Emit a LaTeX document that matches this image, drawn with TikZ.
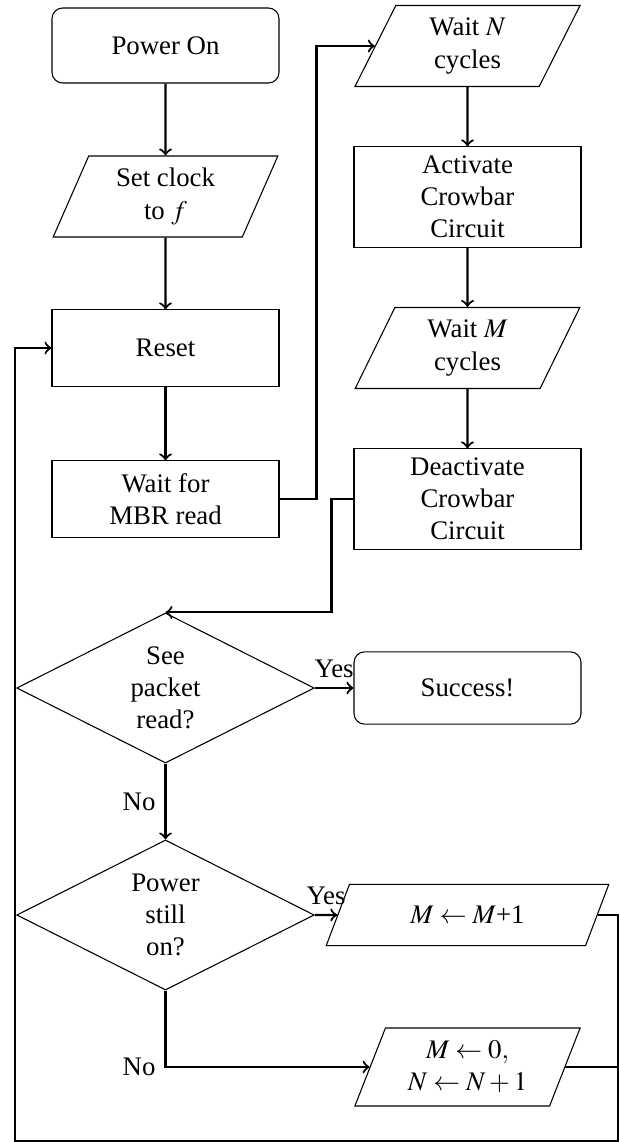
\documentclass[tikz,border=0pt]{standalone}
\usepackage{mathptmx}
\usepackage{fontspec}
\setmainfont{Liberation Serif}
\usetikzlibrary{shapes.geometric, calc}

\tikzset{
	startstop/.style={rectangle, rounded corners, draw, minimum width=84.7pt, minimum height=28pt, align=center},
	process/.style={rectangle, draw, minimum width=84.7pt, minimum height=28.4pt, align=center},
	io/.style={trapezium, trapezium left angle=70, trapezium right angle=110, trapezium stretches=true, draw, minimum width=84.3pt, minimum height=30.2pt, align=center},
	decision/.style={diamond, aspect=2, draw, minimum width=111pt, minimum height=56pt, align=center},
	conn/.style={thick, ->},
	wire/.style={thick},
}

\begin{document}
\begin{tikzpicture}[x=0.3731pt, y=-0.3731pt]
	\useasboundingbox (0,0) rectangle (619,1142);

	% left column
	\node [startstop] (PowerOn) at (165.5,45.5) {Power On};
	\node [io] (SetClock) at (165.5,196.5) {Set clock\\to $f$};
	\node [process] (Reset) at (165.5,348) {Reset};
	\node [process] (WaitMBR) at (165.5,499) {Wait for\\MBR read};

	% right column
	\node [io] (WaitN) at (467.5,46) {Wait $N$\\cycles};
	\node [process, minimum height=37.3pt] (Activate) at (467.5,197) {Activate\\Crowbar\\Circuit};
	\node [io] (WaitM) at (467.5,348) {Wait $M$\\cycles};
	\node [process, minimum height=37.3pt] (Deactivate) at (467.5,499) {Deactivate\\Crowbar\\Circuit};

	% decisions
	\node [decision] (SeePacket) at (165.5,688) {See\\packet\\read?};
	\node [startstop, minimum height=27pt] (Success) at (467.5,688) {Success!};
	\node [decision] (PowerStill) at (165.5,915) {Power\\still\\on?};
	\node [io, minimum width=106pt, minimum height=22.8pt] (IncM) at (467.5,915) {$M \leftarrow M$+1};
	\node [io, minimum height=29.1pt] (ResetM) at (467.5,1067) {$M \leftarrow 0,$\\$N \leftarrow N+1$};

	\coordinate (LoopR) at (618,1141);
	\coordinate (LoopL) at (15,1141);

	\draw [conn] (PowerOn) -- (SetClock);
	\draw [conn] (SetClock) -- (Reset);
	\draw [conn] (Reset) -- (WaitMBR);
	\draw [conn] (WaitMBR.east) -- ++(37,0) |- (WaitN.west);
	\draw [conn] (WaitN) -- (Activate);
	\draw [conn] (Activate) -- (WaitM);
	\draw [conn] (WaitM) -- (Deactivate);
	\draw [conn] (Deactivate.west) -- ++(-22,0) |- (SeePacket.north);

	\draw [conn] (SeePacket.east) -- node [above] {Yes} (Success.west);
	\draw [conn] (SeePacket.south) -- node [left] {No} (PowerStill.north);
	\draw [conn] (PowerStill.east) -- node [above] {Yes} (IncM.west);
	\draw [conn] (PowerStill.south) |- node [pos=0.5, left] {No} (ResetM.west);

	\draw [conn] (IncM.east) -| (LoopR) -- (LoopL) |- (Reset.west);
	\draw [wire] (ResetM.east) -- (ResetM.east -| LoopR);
\end{tikzpicture}
\end{document}
